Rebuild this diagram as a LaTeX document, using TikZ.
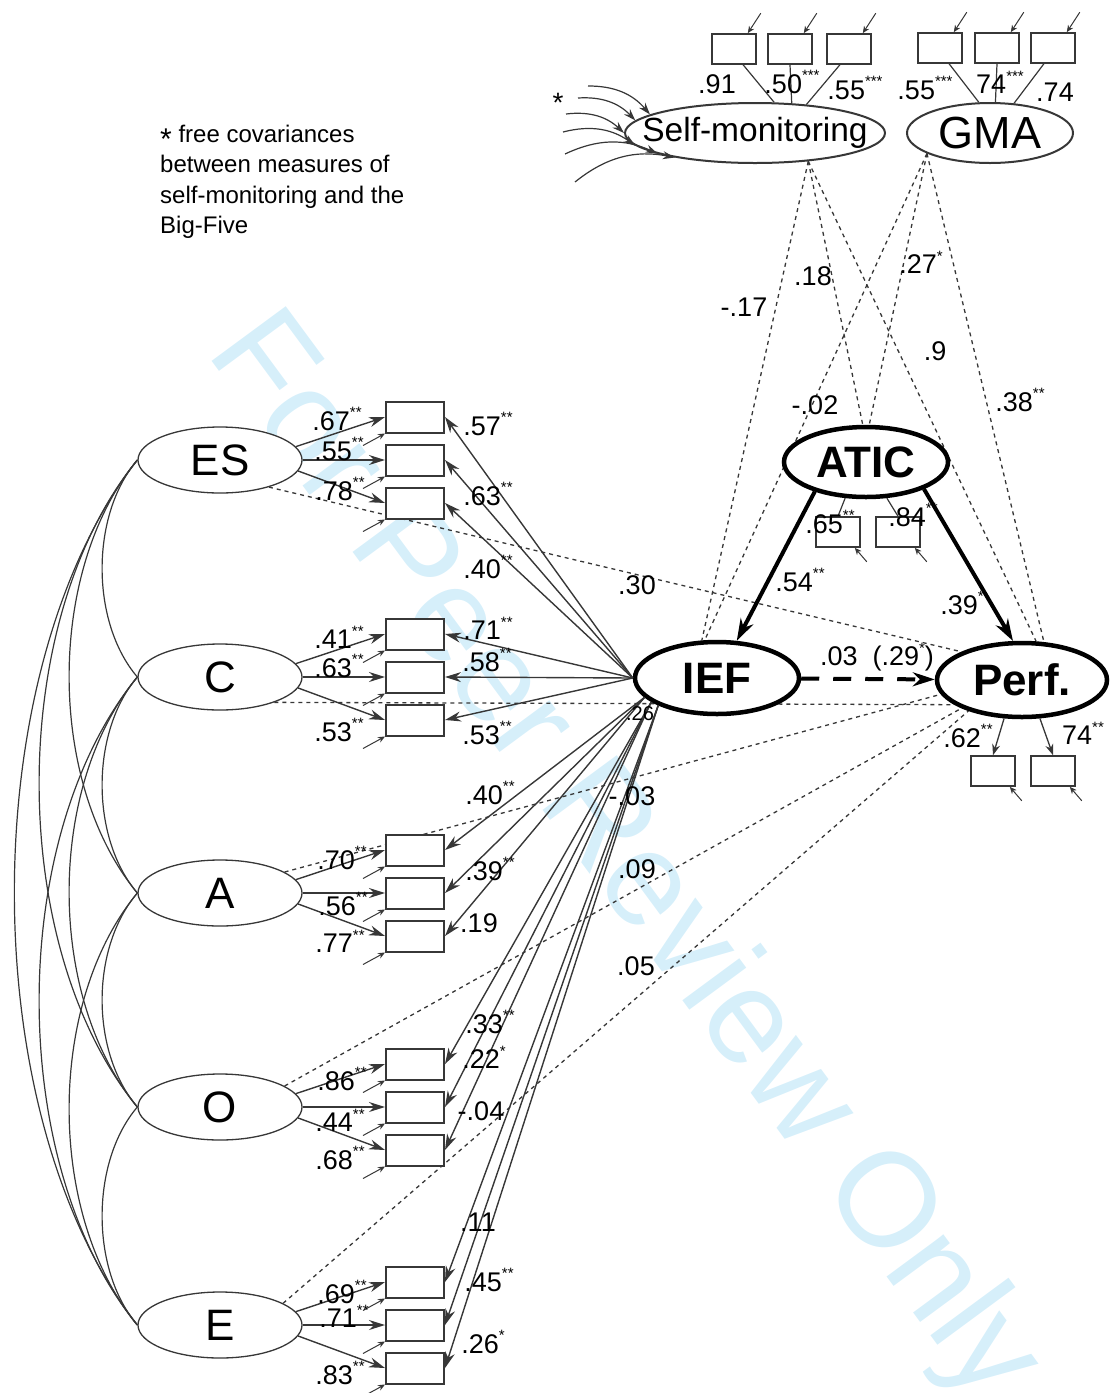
\documentclass[tikz,border=0pt]{standalone}
\usepackage{fontspec}
\setmainfont{Liberation Sans}
\usetikzlibrary{shapes.geometric,arrows.meta,calc}
\pgfdeclarelayer{back}
\pgfsetlayers{back,main}

\definecolor{wmblue}{RGB}{214,239,250}
\definecolor{linegray}{RGB}{55,55,55}

\tikzset{
  trait/.style={ellipse,draw=linegray,line width=1.3pt,fill=white,minimum width=164pt,minimum height=66pt,inner sep=0pt,font=\fontsize{44}{44}\selectfont},
  predictor/.style={ellipse,draw=linegray,line width=2pt,fill=white,minimum height=60pt,inner sep=0pt},
  construct/.style={ellipse,draw=black,line width=4.5pt,fill=white,minimum width=164pt,minimum height=70pt,inner sep=0pt,font=\fontsize{44}{44}\selectfont\bfseries},
  item/.style={rectangle,draw=linegray,line width=2pt,fill=white,minimum width=58pt,minimum height=31pt,inner sep=0pt},
  smallitem/.style={item,minimum width=44pt,minimum height=30pt,line width=1.6pt},
  load/.style={draw=linegray,line width=1.4pt,-{Stealth[length=16pt,width=10pt]}},
  ind/.style={draw=linegray,line width=1.3pt,-{Stealth[length=11pt,width=8pt]}},
  err/.style={draw=linegray,line width=1pt,-{Stealth[length=7pt,width=6pt]}},
  covar/.style={draw=linegray,line width=1.2pt},
  corr/.style={draw=linegray,line width=1.3pt,dash pattern=on 4pt off 4pt},
  struct/.style={draw=black,line width=4pt,-{Stealth[length=22pt,width=14pt]}},
  est/.style={inner sep=0pt,font=\fontsize{27}{27}\selectfont},
  note/.style={inner sep=0pt,anchor=base west,font=\fontsize{24}{24}\selectfont},
}
\newcommand{\sig}[1]{\raisebox{.45em}{\fontsize{15}{15}\selectfont #1}}

\begin{document}
\begin{tikzpicture}[x=1pt,y=-1pt]
\useasboundingbox (0,0) rectangle (1110,1393);

\node[predictor,minimum width=260pt,font=\fontsize{33.5}{33.5}\selectfont] (SM) at (755,133) {\makebox[0pt]{Self-monitoring}};
\node[predictor,minimum width=166pt,font=\fontsize{45}{45}\selectfont] (GMA) at (990,133) {GMA};
\node[construct] (ATIC) at (866,462) {ATIC};
\node[construct,minimum height=72pt] (IEF) at (717,678) {IEF};
\node[construct,minimum width=170pt,minimum height=74pt] (Perf) at (1022,680) {Perf.};

\node[smallitem] (sm1) at (734,49) {};
\node[smallitem] (sm2) at (790,49) {};
\node[smallitem] (sm3) at (849,49) {};
\node[smallitem] (gma1) at (940,48) {};
\node[smallitem] (gma2) at (997,48) {};
\node[smallitem] (gma3) at (1053,48) {};
\node[smallitem] (atic1) at (838,532) {};
\node[smallitem] (atic2) at (898,532) {};
\node[smallitem] (perf1) at (993,771) {};
\node[smallitem] (perf2) at (1053,771) {};

\draw[covar] (sm1.-60) -- (SM.58);
\draw[covar] (sm2.south) -- (SM.39);
\draw[covar] (sm3.-120) -- (SM.29);
\draw[covar] (gma1.-60) -- (GMA.110);
\draw[covar] (gma2.south) -- (GMA.80);
\draw[covar] (gma3.-120) -- (GMA.51);
\foreach \b in {sm1,sm2,sm3,gma1,gma2,gma3}
  \draw[err] ($(\b.north east)+(4,-20)$) -- ($(\b.north east)+(-9,0)$);

\draw[covar] (ATIC.240) -- (atic1.north);
\draw[covar] (ATIC.300) -- (atic2.north);
\draw[ind] (Perf.245) -- (perf1.north);
\draw[ind] (Perf.295) -- (perf2.north);
\foreach \b in {atic1,atic2,perf1,perf2}
  \draw[err] ($(\b.south east)+(6,14)$) -- ($(\b.south east)+(-6,0)$);

\draw[struct] (ATIC.210) -- (IEF.62);
\draw[struct] (ATIC.-25) -- (Perf.103);
\draw[struct,dash pattern=on 18pt off 14pt] (IEF) -- (Perf);

\foreach \fac/\yy in {ES/460,C/677,A/893,O/1107,E/1325}{
  \node[trait] (\fac) at (220,\yy) {\fac};
  \foreach \n/\dd/\ang in {1/-43/10,2/0/0,3/43/-8}{
    \node[item] (\fac\n) at (415,\yy+\dd) {};
    \draw[load] (\fac.\ang) -- (\fac\n.west);
    \draw[err] ($(\fac\n.south west)+(-22,12)$) -- (\fac\n.south west);
  }
}
\foreach \fac/\src in {ES/IEF.west,C/IEF.west,A/IEF.195,O/IEF.200,E/IEF.205}
  \foreach \n in {1,2,3}
    \draw[load] (\src) -- (\fac\n.east);

\foreach \p/\q/\s/\d in {ES/C/47/55,C/A/47/55,A/O/47/55,O/E/47/55,ES/A/91/110,C/O/91/110,A/E/91/110,ES/O/131/160,C/E/131/160,ES/E/164/210}
  \draw[covar] (\p.west) .. controls +(-\s,\d) and +(-\s,-\d) .. (\q.west);

\coordinate (sc1) at (588,86);
\coordinate (sc2) at (578,98);
\coordinate (sc3) at (566,114);
\coordinate (sc4) at (563,132);
\coordinate (sc5) at (565,154);
\coordinate (sc6) at (575,182);
\foreach \c/\ang in {sc1/170,sc2/174,sc3/180,sc4/186,sc5/192,sc6/197}
  \draw[covar,-{Stealth[length=12pt,width=8pt]}] (\c) to[bend left=25] (SM.\ang);
\node[inner sep=0pt,font=\fontsize{28}{28}\selectfont] (star) at (558,103) {*};

\begin{pgfonlayer}{back}
  \node[rotate=-53.6,anchor=base west,inner sep=0pt,text=wmblue,font=\fontsize{134}{134}\selectfont] (wm) at (205,352) {For Peer Review Only};
  \draw[corr] (ES.-29) -- (Perf.155);
  \draw[corr] (C.-25) -- (Perf.200);
  \draw[corr] (A.18) -- (Perf.190);
  \draw[corr] (O.18) -- (Perf.205);
  \draw[corr] (E.19) -- (Perf.210);
  \draw[corr] (SM.-28) -- (IEF.112);
  \draw[corr] (SM.-28) -- (ATIC.95);
  \draw[corr] (SM.-28) -- (Perf.70);
  \draw[corr] (GMA.-162) -- (IEF.108);
  \draw[corr] (GMA.-162) -- (ATIC.85);
  \draw[corr] (GMA.-162) -- (Perf.60);
\end{pgfonlayer}

\node[note] (note1) at (160,142) {\raisebox{-.3em}{\fontsize{30}{30}\selectfont *} free covariances};
\node[note] (note2) at (160,172) {between measures of};
\node[note] (note3) at (160,203) {self-monitoring and the};
\node[note] (note4) at (160,233) {Big-Five};

\node[est] (tsm1) at (717,84) {.91};
\node[est] (tsm2) at (792,82) {.50\sig{***}};
\node[est] (tsm3) at (855,88) {.55\sig{***}};
\node[est] (tgma1) at (925,88) {.55\sig{***}};
\node[est] (tgma2) at (1000,82) {74\sig{***}};
\node[est] (tgma3) at (1055,92) {.74};

\node[est] (lES1) at (337,419) {.67\sig{**}};
\node[est] (lES2) at (339,449) {.55\sig{**}};
\node[est] (lES3) at (340,489) {.78\sig{**}};
\node[est] (lC1) at (339,637) {.41\sig{**}};
\node[est] (lC2) at (339,666) {.63\sig{**}};
\node[est] (lC3) at (339,730) {.53\sig{**}};
\node[est] (lA1) at (342,858) {.70\sig{**}};
\node[est] (lA2) at (343,904) {.56\sig{**}};
\node[est] (lA3) at (340,941) {.77\sig{**}};
\node[est] (lO1) at (342,1079) {.86\sig{**}};
\node[est] (lO2) at (340,1120) {.44\sig{**}};
\node[est] (lO3) at (340,1158) {.68\sig{**}};
\node[est] (lE1) at (342,1292) {.69\sig{**}};
\node[est] (lE2) at (344,1316) {.71\sig{**}};
\node[est] (lE3) at (340,1373) {.83\sig{**}};

\node[est] (rES1) at (488,424) {.57\sig{**}};
\node[est] (rES2) at (488,494) {.63\sig{**}};
\node[est] (rES3) at (488,567) {.40\sig{**}};
\node[est] (rC1) at (488,628) {.71\sig{**}};
\node[est] (rC2) at (487,660) {.58\sig{**}};
\node[est] (rC3) at (487,733) {.53\sig{**}};
\node[est] (rA1) at (490,793) {.40\sig{**}};
\node[est] (rA2) at (490,869) {.39\sig{**}};
\node[est] (rA3) at (479,923) {.19};
\node[est] (rO1) at (490,1022) {.33\sig{**}};
\node[est] (rO2) at (484,1057) {.22\sig{*}};
\node[est] (rO3) at (481,1111) {-.04};
\node[est] (rE1) at (478,1222) {.11};
\node[est] (rE2) at (489,1280) {.45\sig{**}};
\node[est] (rE3) at (483,1342) {.26\sig{*}};

\node[est] (pES) at (637,585) {.30};
\node[est,font=\fontsize{20}{20}\selectfont] (pC) at (640,714) {.26};
\node[est] (pA) at (632,796) {-.03};
\node[est] (pO) at (637,869) {.09};
\node[est] (pE) at (636,966) {.05};

\node[est] (smIEF) at (744,307) {-.17};
\node[est] (smATIC) at (813,276) {.18};
\node[est] (smPerf) at (935,351) {.9};
\node[est] (gmaIEF) at (815,405) {-.02};
\node[est] (gmaATIC) at (921,262) {.27\sig{*}};
\node[est] (gmaPerf) at (1020,400) {.38\sig{**}};

\node[est] (aticIEF) at (800,580) {.54\sig{**}};
\node[est] (aticPerf) at (962,603) {.39\sig{*}};
\node[est] (iefPerf) at (877,657) {.03 \ (.29\sig{*})};
\node[est] (laticA) at (830,522) {.65\sig{**}};
\node[est] (laticB) at (913,515) {.84\sig{**}};
\node[est] (lperfA) at (968,736) {.62\sig{**}};
\node[est] (lperfB) at (1083,733) {74\sig{**}};
\end{tikzpicture}
\end{document}
